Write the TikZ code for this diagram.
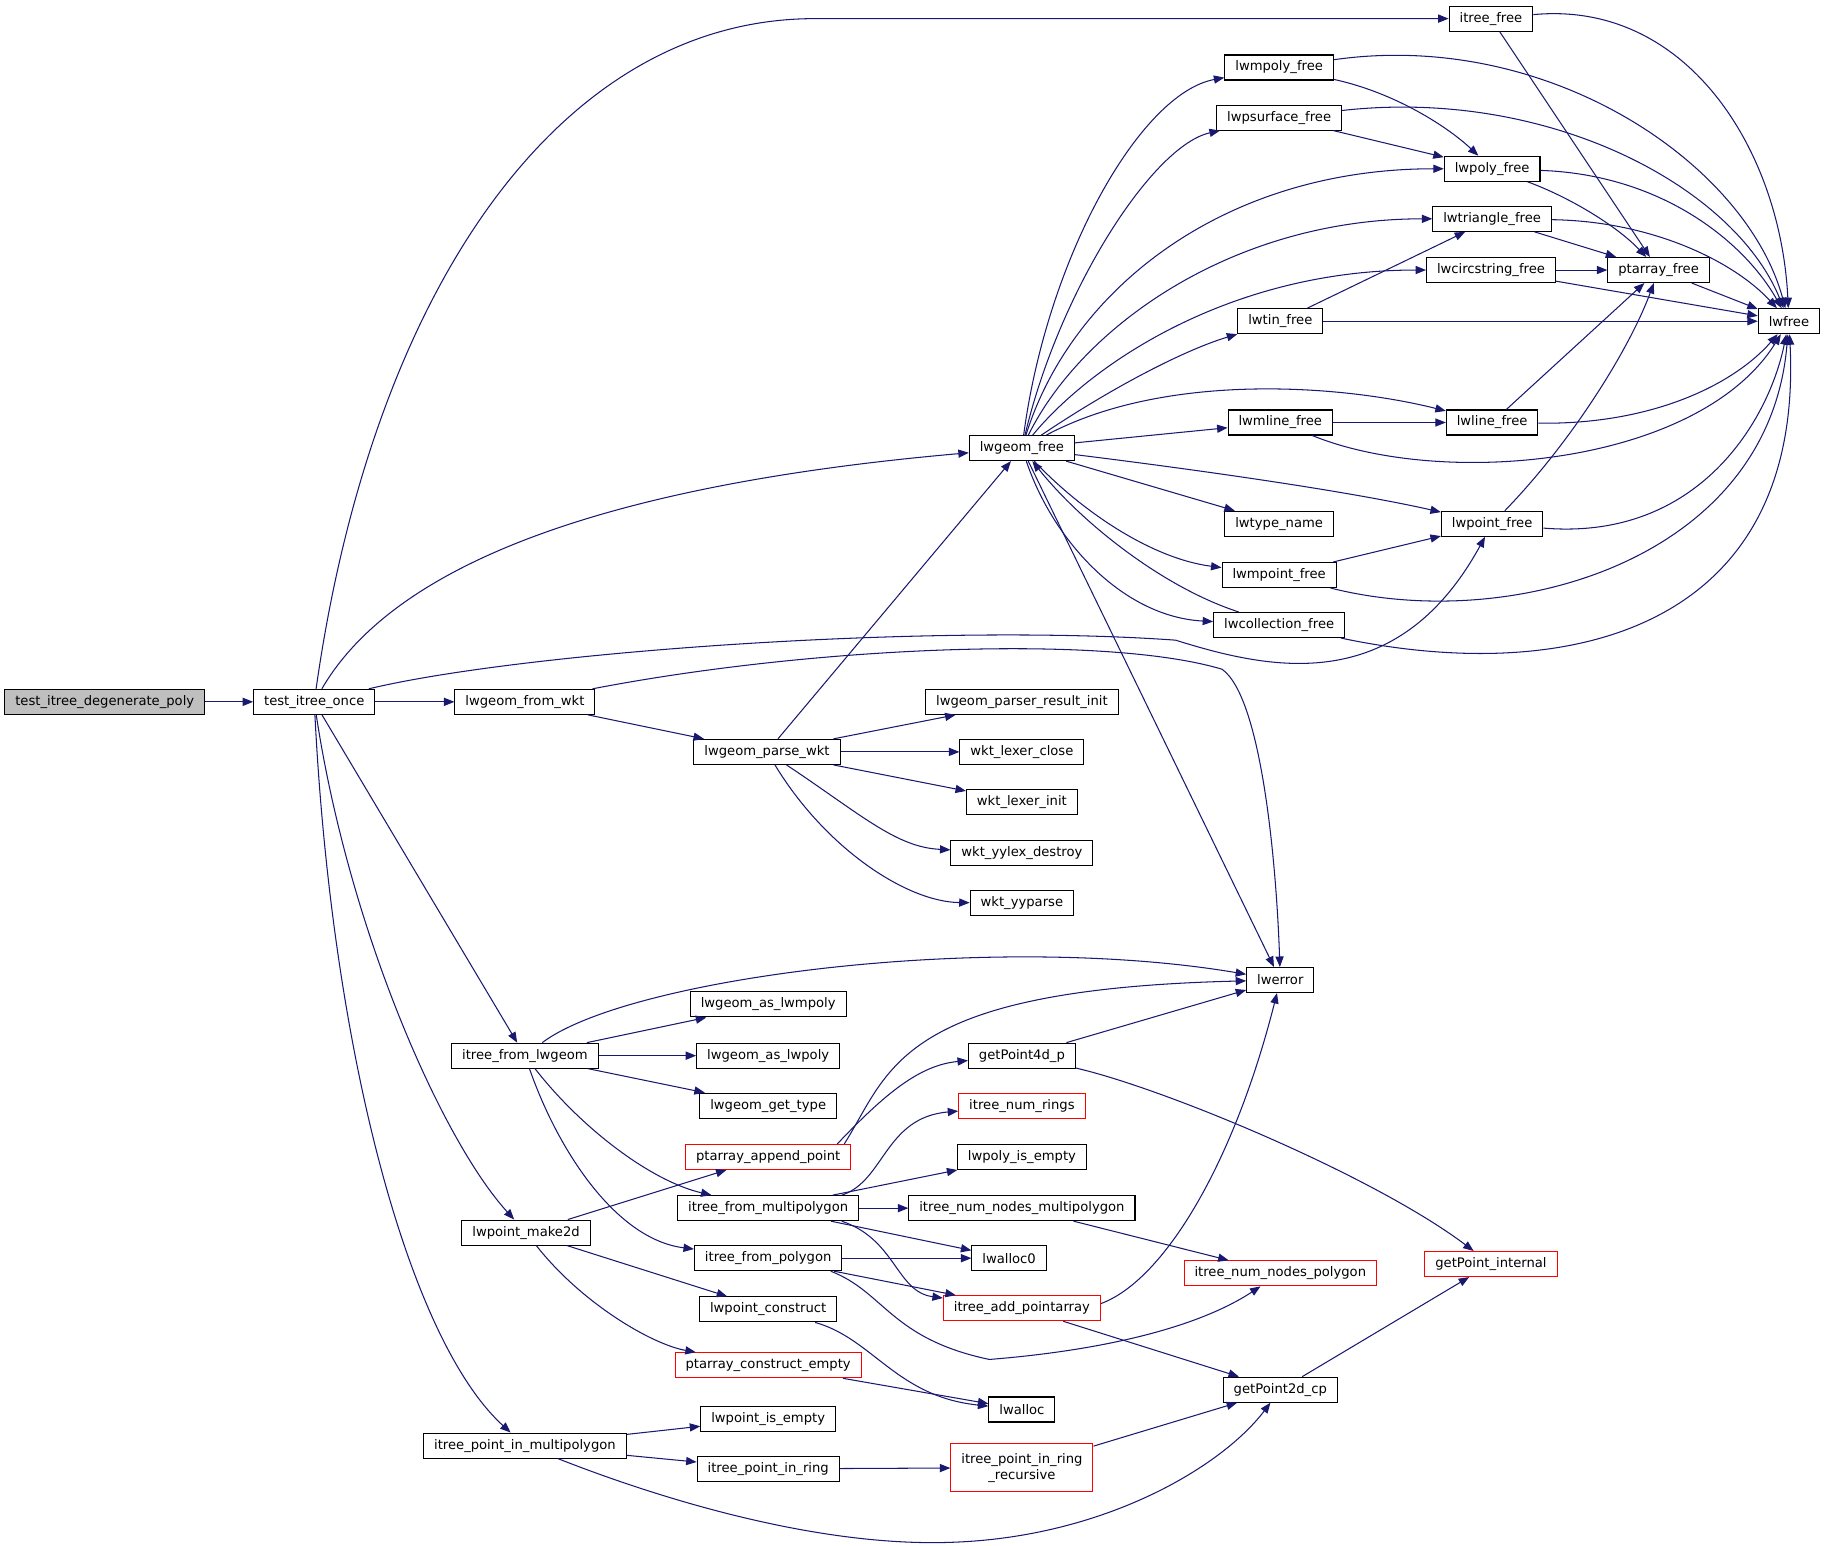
\documentclass[tikz,border=0pt]{standalone}
\usepackage{fontspec}
\setmainfont{DejaVu Sans}
\usetikzlibrary{arrows.meta}
\definecolor{edgeblue}{HTML}{191970}
\definecolor{rootgray}{HTML}{BFBFBF}
\tikzset{
  fn/.style={draw=black, line width=0.9pt, minimum height=21.5pt, inner xsep=9pt, inner ysep=2pt, font=\fontsize{11.3}{13.5}\selectfont},
  fnred/.style={fn, draw=red},
  fnroot/.style={fn, fill=rootgray},
  call/.style={draw=edgeblue, line width=0.9pt, -{Triangle[length=9pt,width=7pt]}},
}

\begin{document}
\begin{tikzpicture}[x=1pt,y=-1pt]
    \useasboundingbox (0,0) rectangle (1568,1328);

    % functions
    \node[fnroot] (degen) at (90,603) {test\_itree\_degenerate\_poly};
    \node[fn] (once) at (270,603) {test\_itree\_once};
    \node[fn] (itf) at (1281,16) {itree\_free};
    \node[fn] (lmpf) at (1099,58) {lwmpoly\_free};
    \node[fn] (lpsf) at (1099,101) {lwpsurface\_free};
    \node[fn] (lpf) at (1282,145) {lwpoly\_free};
    \node[fn] (ltrf) at (1282,188) {lwtriangle\_free};
    \node[fn] (lcsf) at (1281,232) {lwcircstring\_free};
    \node[fn] (ptf) at (1425,232) {ptarray\_free};
    \node[fn] (lwf) at (1537,276) {lwfree};
    \node[fn] (ltnf) at (1100,276) {lwtin\_free};
    \node[fn] (lgf) at (878,385) {lwgeom\_free};
    \node[fn] (lmlf) at (1100,363) {lwmline\_free};
    \node[fn] (llf) at (1282,363) {lwline\_free};
    \node[fn] (ltn) at (1099,450) {lwtype\_name};
    \node[fn] (lptf) at (1282,450) {lwpoint\_free};
    \node[fn] (lmptf) at (1099,494) {lwmpoint\_free};
    \node[fn] (lcf) at (1099,537) {lwcollection\_free};
    \node[fn] (lfw) at (451,603) {lwgeom\_from\_wkt};
    \node[fn] (lpw) at (659,646) {lwgeom\_parse\_wkt};
    \node[fn] (lpri) at (878,603) {lwgeom\_parser\_result\_init};
    \node[fn] (wlc) at (878,646) {wkt\_lexer\_close};
    \node[fn] (wli) at (878,689) {wkt\_lexer\_init};
    \node[fn] (wyd) at (878,733) {wkt\_yylex\_destroy};
    \node[fn] (wyp) at (878,776) {wkt\_yyparse};
    \node[fn] (lwe) at (1100,842) {lwerror};
    \node[fn] (lalmp) at (660,863) {lwgeom\_as\_lwmpoly};
    \node[fn] (ifl) at (451,907) {itree\_from\_lwgeom};
    \node[fn] (lalp) at (660,907) {lwgeom\_as\_lwpoly};
    \node[fn] (lgt) at (660,950) {lwgeom\_get\_type};
    \node[fn] (gp4) at (878,907) {getPoint4d\_p};
    \node[fnred] (inr) at (878,950) {itree\_num\_rings};
    \node[fnred] (papp) at (660,994) {ptarray\_append\_point};
    \node[fn] (lpie) at (878,994) {lwpoly\_is\_empty};
    \node[fn] (ifmp) at (660,1038) {itree\_from\_multipolygon};
    \node[fn] (innm) at (878,1038) {itree\_num\_nodes\_multipolygon};
    \node[fn] (lpm) at (452,1059) {lwpoint\_make2d};
    \node[fn] (ifp) at (660,1081) {itree\_from\_polygon};
    \node[fn] (la0) at (867,1081) {lwalloc0};
    \node[fnred] (innp) at (1100,1094) {itree\_num\_nodes\_polygon};
    \node[fnred] (gpi) at (1281,1086) {getPoint\_internal};
    \node[fnred] (iap) at (878,1124) {itree\_add\_pointarray};
    \node[fn] (lpc) at (660,1125) {lwpoint\_construct};
    \node[fnred] (pce) at (660,1173) {ptarray\_construct\_empty};
    \node[fn] (gp2) at (1100,1194) {getPoint2d\_cp};
    \node[fn] (lal) at (878,1211) {lwalloc};
    \node[fn] (lpis) at (660,1219) {lwpoint\_is\_empty};
    \node[fn] (ipim) at (451,1242) {itree\_point\_in\_multipolygon};
    \node[fn] (ipir) at (660,1262) {itree\_point\_in\_ring};
    \node[fnred, align=center, minimum height=41pt] (ipirr) at (878,1261) {itree\_point\_in\_ring\\\_recursive};

    % straight calls
    \foreach \a/\b in {degen/once, once/lfw, once/ifl, lfw/lpw, lpw/lgf, lpw/lpri, lpw/wlc, lpw/wli,
        lgf/lmlf, lgf/ltn, lgf/lwe, itf/ptf, lpsf/lpf, ltrf/ptf, lcsf/ptf, lcsf/lwf, ptf/lwf,
        ltnf/lwf, ltnf/ltrf, lmlf/llf, llf/ptf, lmptf/lptf, ifl/lalmp, ifl/lalp, ifl/lgt,
        lpm/papp, lpm/lpc, ifmp/lpie, ifmp/innm, ifmp/la0, ifp/la0, ifp/iap, innm/innp,
        iap/gp2, gp4/lwe, gp2/gpi, pce/lal, ipim/lpis, ipim/ipir, ipir/ipirr, ipirr/gp2} {
        \draw[call] (\a) -- (\b);
    }

    % curved calls
    \draw[call] (once) .. controls (320,250) and (480,16) .. (700,16) -- (itf);
    \draw[call] (once) .. controls (330,500) and (480,420) .. (lgf);
    \draw[call] (once) .. controls (450,560) and (800,535) .. (1010,550) .. controls (1090,575) and (1200,600) .. (lptf);
    \draw[call] (once) .. controls (300,800) and (380,980) .. (lpm);
    \draw[call] (once) .. controls (285,900) and (350,1150) .. (ipim);
    \draw[call] (lfw) .. controls (700,555) and (950,545) .. (1050,575) .. controls (1085,600) and (1097,750) .. (lwe);
    \draw[call] (lpw) .. controls (740,700) and (770,728) .. (wyd);
    \draw[call] (lpw) .. controls (710,730) and (780,775) .. (wyp);

    \draw[call] (lgf) .. controls (900,220) and (980,80) .. (lmpf);
    \draw[call] (lgf) .. controls (910,250) and (990,125) .. (lpsf);
    \draw[call] (lgf) .. controls (920,250) and (1050,145) .. (lpf);
    \draw[call] (lgf) .. controls (930,280) and (1060,188) .. (ltrf);
    \draw[call] (lgf) .. controls (940,310) and (1060,232) .. (lcsf);
    \draw[call] (lgf) .. controls (960,330) and (1020,300) .. (ltnf);
    \draw[call] (lgf) .. controls (1000,320) and (1150,330) .. (llf);
    \draw[call] (lgf) .. controls (1000,400) and (1150,420) .. (lptf);
    \draw[call] (lgf) .. controls (930,440) and (990,480) .. (lmptf);
    \draw[call] (lgf) .. controls (905,465) and (965,530) .. (lcf);
    \draw[call] (lcf) .. controls (1000,505) and (930,450) .. (lgf);

    \draw[call] (itf) .. controls (1450,0) and (1530,130) .. (lwf);
    \draw[call] (lmpf) .. controls (1330,25) and (1500,140) .. (lwf);
    \draw[call] (lmpf) .. controls (1200,80) and (1245,110) .. (lpf);
    \draw[call] (lpsf) .. controls (1330,75) and (1490,160) .. (lwf);
    \draw[call] (lpf) .. controls (1430,150) and (1500,210) .. (lwf);
    \draw[call] (lpf) .. controls (1350,170) and (1390,195) .. (ptf);
    \draw[call] (ltrf) .. controls (1420,190) and (1490,225) .. (lwf);
    \draw[call] (llf) .. controls (1420,365) and (1490,330) .. (lwf);
    \draw[call] (lmlf) .. controls (1240,420) and (1460,400) .. (lwf);
    \draw[call] (lptf) .. controls (1460,465) and (1520,360) .. (lwf);
    \draw[call] (lptf) .. controls (1350,380) and (1400,300) .. (ptf);
    \draw[call] (lmptf) .. controls (1300,545) and (1520,480) .. (lwf);
    \draw[call] (lcf) .. controls (1350,590) and (1550,540) .. (lwf);

    \draw[call] (ifl) .. controls (540,840) and (850,800) .. (lwe);
    \draw[call] (ifl) .. controls (500,970) and (560,1015) .. (ifmp);
    \draw[call] (ifl) .. controls (480,990) and (530,1065) .. (ifp);
    \draw[call] (lpm) .. controls (500,1120) and (560,1155) .. (pce);
    \draw[call] ([xshift=-6pt]papp.north east) .. controls (765,920) and (770,850) .. (lwe);
    \draw[call] ([xshift=-12pt]papp.north east) .. controls (760,940) and (790,915) .. (gp4);
    \draw[call] ([xshift=-15pt]ifmp.north east) .. controls (760,1015) and (760,960) .. (inr);
    \draw[call] ([xshift=-15pt]ifmp.south east) .. controls (770,1065) and (770,1110) .. (iap);
    \draw[call] ([xshift=-10pt]ifp.south east) .. controls (760,1110) and (765,1150) .. (850,1168) .. controls (950,1160) and (1030,1140) .. (innp);
    \draw[call] ([yshift=4pt]iap.east) .. controls (1000,1100) and (1060,1000) .. (lwe);
    \draw[call] (gp4) .. controls (1000,935) and (1180,1010) .. (gpi);
    \draw[call] (lpc) .. controls (750,1150) and (770,1200) .. (lal);
    \draw[call] (ipim) .. controls (560,1285) and (700,1330) .. (820,1325) .. controls (950,1320) and (1050,1260) .. (gp2);
\end{tikzpicture}
\end{document}
